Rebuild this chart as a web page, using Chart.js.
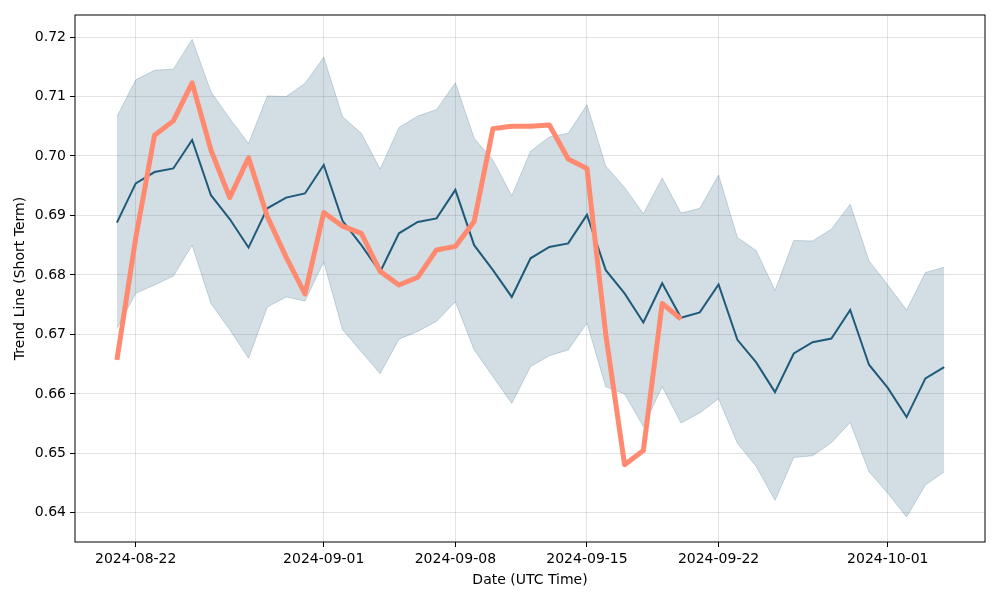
<!DOCTYPE html>
<html>
<head>
<meta charset="utf-8">
<script src="https://cdn.jsdelivr.net/npm/chart.js@4.4.1/dist/chart.umd.min.js"></script>
<style>
  html, body { margin: 0; background: #fff; }
  #wrap { width: 1000px; height: 600px; }
</style>
</head>
<body>
<div id="wrap"><canvas id="chart"></canvas></div>
<script>
// Daily dates (UTC)
const dates = [
  '2024-08-21','2024-08-22','2024-08-23','2024-08-24','2024-08-25','2024-08-26','2024-08-27','2024-08-28',
  '2024-08-29','2024-08-30','2024-08-31','2024-09-01','2024-09-02','2024-09-03','2024-09-04','2024-09-05',
  '2024-09-06','2024-09-07','2024-09-08','2024-09-09','2024-09-10','2024-09-11','2024-09-12','2024-09-13',
  '2024-09-14','2024-09-15','2024-09-16','2024-09-17','2024-09-18','2024-09-19','2024-09-20','2024-09-21',
  '2024-09-22','2024-09-23','2024-09-24','2024-09-25','2024-09-26','2024-09-27','2024-09-28','2024-09-29',
  '2024-09-30','2024-10-01','2024-10-02','2024-10-03','2024-10-04'
];
// Trend line (dark)
const trend = [
  0.6888,0.6954,0.6973,0.6979,0.7027,0.6934,0.6894,0.6846,0.6912,0.6930,0.6937,0.6985,0.6891,0.6850,0.6805,
  0.6870,0.6889,0.6895,0.6943,0.6850,0.6808,0.6763,0.6828,0.6847,0.6853,0.6901,0.6808,0.6769,0.6720,0.6786,
  0.6728,0.6737,0.6784,0.6691,0.6653,0.6603,0.6668,0.6687,0.6693,0.6741,0.6649,0.6610,0.6561,0.6626,0.6645
];
// Band upper / lower
const upper = [
  0.7066,0.7128,0.7144,0.7146,0.7196,0.7108,0.7063,0.7021,0.7101,0.7100,0.7122,0.7166,0.7066,0.7038,0.6978,
  0.7048,0.7067,0.7078,0.7123,0.7030,0.6993,0.6933,0.7008,0.7032,0.7038,0.7086,0.6983,0.6947,0.6903,0.6963,
  0.6904,0.6912,0.6968,0.6863,0.6841,0.6774,0.6858,0.6857,0.6877,0.6919,0.6824,0.6783,0.6741,0.6804,0.6813
];
const lower = [
  0.6710,0.6769,0.6783,0.6798,0.6850,0.6752,0.6708,0.6660,0.6746,0.6763,0.6756,0.6822,0.6708,0.6671,0.6634,
  0.6692,0.6705,0.6722,0.6755,0.6674,0.6629,0.6584,0.6646,0.6664,0.6674,0.6719,0.6612,0.6600,0.6545,0.6612,
  0.6551,0.6568,0.6592,0.6517,0.6478,0.6421,0.6493,0.6496,0.6518,0.6552,0.6469,0.6433,0.6393,0.6447,0.6469
];
// Actual values (salmon), first 31 days
const actual = [
  0.6657,0.6862,0.7035,0.7059,0.7123,0.7010,0.6930,0.6997,0.6898,0.6830,0.6768,0.6905,0.6882,0.6870,0.6806,
  0.6783,0.6796,0.6842,0.6848,0.6890,0.7046,0.7050,0.7050,0.7052,0.6995,0.6979,0.6700,0.6481,0.6505,0.6752,
  0.6726
];
const xTickDates = ['2024-08-22','2024-09-01','2024-09-08','2024-09-15','2024-09-22','2024-10-01'];
const yTicks = [0.64,0.65,0.66,0.67,0.68,0.69,0.70,0.71,0.72];

const DAY = 86400000;
const t0 = Date.parse(dates[0]);
const dayOf = d => (Date.parse(d) - t0) / DAY;
const pts = arr => arr.map((v, i) => ({x: dayOf(dates[i]), y: v}));

Chart.defaults.font.family = "'DejaVu Sans', sans-serif";
Chart.defaults.font.size = 14;
Chart.defaults.color = '#000';

// matplotlib-like frame around the plot area
const frame = {
  id: 'frame',
  afterDraw(c) {
    const a = c.chartArea, ctx = c.ctx;
    ctx.save();
    ctx.strokeStyle = '#000';
    ctx.lineWidth = 1;
    ctx.strokeRect(a.left, a.top, a.right - a.left, a.bottom - a.top);
    ctx.restore();
  }
};

new Chart(document.getElementById('chart'), {
  type: 'line',
  data: {
    datasets: [
      {
        label: 'Actual',
        data: pts(actual),
        borderColor: '#ff8a70',
        borderWidth: 5,
        borderJoinStyle: 'round',
        pointRadius: 0,
        fill: false,
        order: 0
      },
      {
        label: 'Trend',
        data: pts(trend),
        borderColor: '#1f5a7a',
        borderWidth: 2,
        pointRadius: 0,
        fill: false,
        order: 1
      },
      {
        label: 'Upper',
        data: pts(upper),
        borderColor: 'rgba(31,90,122,0.22)',
        borderWidth: 1,
        pointRadius: 0,
        backgroundColor: 'rgba(31,90,122,0.2)',
        fill: '+1',
        order: 2
      },
      {
        label: 'Lower',
        data: pts(lower),
        borderColor: 'rgba(31,90,122,0.22)',
        borderWidth: 1,
        pointRadius: 0,
        fill: false,
        order: 3
      }
    ]
  },
  options: {
    responsive: true,
    maintainAspectRatio: false,
    animation: false,
    layout: {padding: {left: 0, top: 15, right: 15, bottom: 0}},
    plugins: {legend: {display: false}, tooltip: {enabled: false}},
    scales: {
      x: {
        type: 'linear',
        min: -2.23,
        max: 46.17,
        afterBuildTicks: s => { s.ticks = xTickDates.map(d => ({value: dayOf(d)})); },
        afterFit: s => { s.height = 58; },
        ticks: {
          callback: v => dates[Math.round(v)],
          maxRotation: 0,
          autoSkip: false,
          padding: 4
        },
        grid: {color: 'rgba(0,0,0,0.11)', tickColor: '#000', tickLength: 5},
        border: {display: false},
        title: {display: true, text: 'Date (UTC Time)', font: {size: 14}, padding: {top: 2, bottom: 11}}
      },
      y: {
        min: 0.6351,
        max: 0.7237,
        afterBuildTicks: s => { s.ticks = yTicks.map(v => ({value: v})); },
        afterFit: s => { s.width = 75; },
        ticks: {callback: v => v.toFixed(2), padding: 4},
        grid: {color: 'rgba(0,0,0,0.11)', tickColor: '#000', tickLength: 5},
        border: {display: false},
        title: {display: true, text: 'Trend Line (Short Term)', font: {size: 14}, padding: {top: 12, bottom: 2}}
      }
    }
  },
  plugins: [frame]
});
</script>
</body>
</html>
